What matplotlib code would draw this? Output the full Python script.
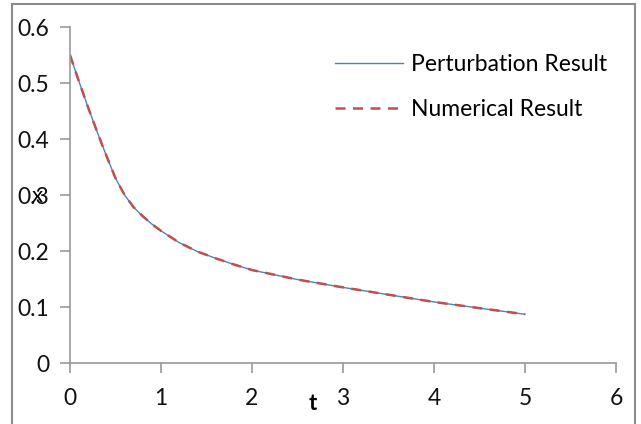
import matplotlib.pyplot as plt
from matplotlib.patches import Rectangle

# values
t = [0, 0.1, 0.2, 0.3, 0.4, 0.5, 0.6, 0.7, 0.8, 0.9, 1.0, 1.2, 1.4, 1.6, 1.8,
     2.0, 2.5, 3.0, 3.5, 4.0, 4.5, 5.0]
perturbation = [0.55, 0.502, 0.456, 0.412, 0.37, 0.33, 0.3, 0.278, 0.262, 0.248,
                0.236, 0.215, 0.199, 0.187, 0.176, 0.166, 0.149, 0.135, 0.122,
                0.109, 0.098, 0.087]
numerical = [0.55, 0.502, 0.456, 0.412, 0.37, 0.33, 0.3, 0.278, 0.262, 0.248,
             0.236, 0.215, 0.199, 0.187, 0.176, 0.166, 0.149, 0.135, 0.122,
             0.109, 0.098, 0.087]
xticks = [0, 1, 2, 3, 4, 5, 6]
yticks = [0, 0.1, 0.2, 0.3, 0.4, 0.5, 0.6]

plt.rcParams['font.family'] = ['Lato', 'DejaVu Sans']

fig = plt.figure(figsize=(6.41, 4.24), dpi=100)
ax = fig.add_axes([70 / 641, 1 - 363 / 424, 546 / 641, 336 / 424])

# outer chart frame
fig.patches.append(Rectangle((12 / 641, -0.05), 623 / 641, 1.04, transform=fig.transFigure,
                             fill=False, edgecolor='#8c8c8c', linewidth=1.5))

ax.plot(t, perturbation, color='#4F81BD', linewidth=1.0, label='Perturbation Result')
ax.plot(t, numerical, color='#C0504D', linewidth=1.8, linestyle=(0, (4, 3)),
        label='Numerical Result')

ax.set_xlim(0, 6)
ax.set_ylim(0, 0.6)
ax.set_xticks(xticks)
ax.set_yticks(yticks)
ax.set_xticklabels([str(v) for v in xticks])
ax.set_yticklabels(['0' if v == 0 else f'{v:.1f}' for v in yticks])

for s in ['top', 'right']:
    ax.spines[s].set_visible(False)
for s in ['left', 'bottom']:
    ax.spines[s].set_color('#999999')
    ax.spines[s].set_linewidth(1.2)
ax.tick_params(direction='out', length=7, width=1.2, color='#999999',
               labelsize=16.5, labelcolor='#111111')
ax.tick_params(axis='x', pad=11)
ax.tick_params(axis='y', pad=8)

ax.set_xlabel('t', fontweight='bold', fontsize=16)
ax.xaxis.set_label_coords((313 - 70) / 546, -0.09)
ax.set_ylabel('x', rotation=0, fontsize=16, va='center', ha='center')
ax.yaxis.set_label_coords((37 - 70) / 546, (363 - 196) / 336)

ax.legend(loc='upper left', bbox_to_anchor=((314 - 70) / 546, (363 - 33) / 336),
          frameon=False, fontsize=16.5, handlelength=3.0, labelspacing=1.05,
          handletextpad=0.35)

fig.savefig('out.png', dpi=100)
